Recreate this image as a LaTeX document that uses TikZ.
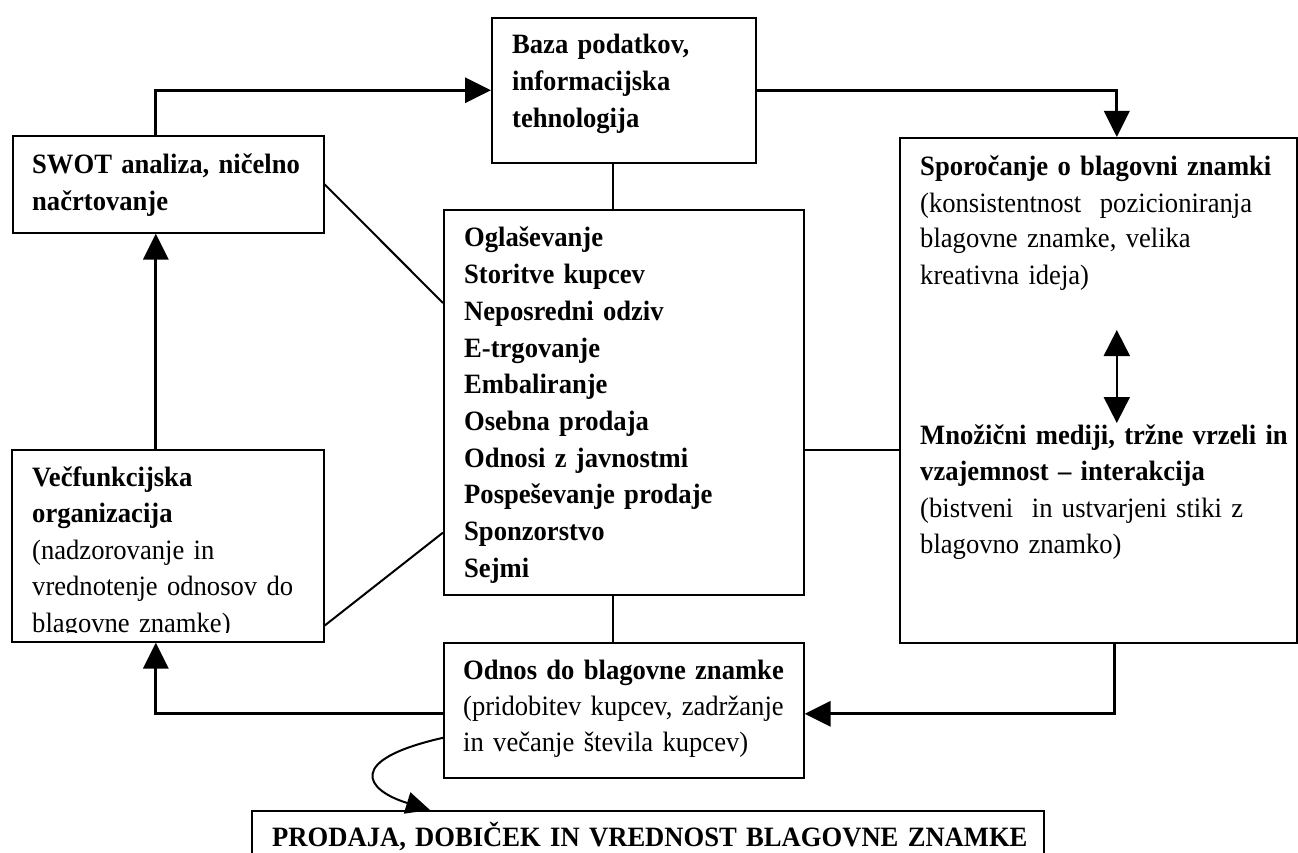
\documentclass[tikz,border=0pt]{standalone}
\usepackage{fontspec}
\setmainfont[FakeStretch=0.95]{Liberation Serif}
\usetikzlibrary{arrows.meta}
\begin{document}
\begin{tikzpicture}[x=1pt,y=-1pt,
  box/.style={draw, line width=1.6pt, inner sep=0pt, anchor=north west},
  txt/.style={anchor=base west, inner sep=0pt, text width=420pt, align=left,
    font=\fontsize{28}{#1}\selectfont},
  txt/.default=36.7pt,
  flow/.style={line width=3.3pt, -{Triangle[length=26pt,width=25pt]}},
  link/.style={line width=2pt},
  dbl/.style={line width=2pt, {Triangle[length=26pt,width=26pt]}-{Triangle[length=26pt,width=26pt]}},
  curvearrow/.style={line width=2pt, -{Triangle[length=24pt,width=22pt]}}]
\useasboundingbox (0,0) rectangle (1298,853);
\clip (0,0) rectangle (1298,853);
% boxes
\node[box, minimum width=311pt, minimum height=97pt]  (swot)  at (12,135)  {};
\node[box, minimum width=264pt, minimum height=145pt] (baza)  at (491,17)  {};
\node[box, minimum width=360pt, minimum height=385pt] (list)  at (443,209) {};
\node[box, minimum width=397pt, minimum height=505pt] (spor)  at (899,137) {};
\node[box, minimum width=312pt, minimum height=192pt] (vec)   at (11,449)  {};
\node[box, minimum width=360pt, minimum height=135pt] (odnos) at (443,642) {};
\node[box, minimum width=792pt, minimum height=80pt]  (prod)  at (251,810) {};
% texts
\node[txt] (tswot) at (32,174) {\bfseries SWOT analiza, ničelno\\ načrtovanje};
\node[txt] (tbaza) at (512,54) {\bfseries Baza podatkov,\\ informacijska\\ tehnologija};
\node[txt] (tlist) at (464,247) {\bfseries Oglaševanje\\ Storitve kupcev\\ Neposredni odziv\\ E-trgovanje\\ Embaliranje\\ Osebna prodaja\\ Odnosi z javnostmi\\ Pospeševanje prodaje\\ Sponzorstvo\\ Sejmi};
\node[txt=36pt] (tspor) at (920,176) {\textbf{Sporočanje o blagovni znamki}\\ (konsistentnost\ \ pozicioniranja\\ blagovne znamke, velika\\ kreativna ideja)};
\node[txt=36.5pt] (tmedia) at (920,444) {\textbf{Množični mediji, tržne vrzeli in}\\ \textbf{vzajemnost – interakcija}\\ (bistveni\ \ in ustvarjeni stiki z\\ blagovno znamko)};
\begin{scope}
\clip (vec.north west) rectangle ([yshift=10pt]vec.south east);
\node[txt=36.5pt] (tvec) at (32,486) {\textbf{Večfunkcijska}\\ \textbf{organizacija}\\ (nadzorovanje in\\ vrednotenje odnosov do\\ blagovne znamke)};
\end{scope}
\node[txt=36pt] (todnos) at (463,679) {\textbf{Odnos do blagovne znamke}\\ (pridobitev kupcev, zadržanje\\ in večanje števila kupcev)};
\node[txt, text width=780pt] (tprod) at (272,846) {\bfseries PRODAJA, DOBIČEK IN VREDNOST BLAGOVNE ZNAMKE};
% connectors
\draw[flow] ([xshift=-12.5pt]swot.north) |- (baza.west);
\draw[flow] (baza.east) -| ([xshift=18.5pt]spor.north);
\draw[link] ([xshift=-11pt]baza.south) -- ([xshift=-11pt]list.north);
\draw[link] (swot.east) -- ([yshift=-94pt]list.north west);
\draw[link] ([yshift=17pt]vec.south east) -- ([yshift=63pt]list.south west);
\draw[flow] ([xshift=-12pt]vec.north) -- ([xshift=-12pt]vec.north |- swot.south);
\draw[link] ([yshift=-47.5pt]list.east) -- ([yshift=-47.5pt]list.east -| spor.west);
\draw[link] ([xshift=-11pt]list.south) -- ([xshift=-11pt]odnos.north);
\draw[flow] ([xshift=16.5pt]spor.south) |- ([yshift=-3.5pt]odnos.east);
\draw[flow] ([yshift=-3.5pt]odnos.west) -| ([xshift=-12pt]vec.south);
\draw[dbl] ([xshift=18.5pt,yshift=-193pt]spor.north) -- ([xshift=18.5pt,yshift=-286pt]spor.north);
\draw[curvearrow] ([yshift=-27.5pt]odnos.west) .. controls (345,760) and (365,790) .. ([xshift=179pt]prod.north west);
\end{tikzpicture}
\end{document}
